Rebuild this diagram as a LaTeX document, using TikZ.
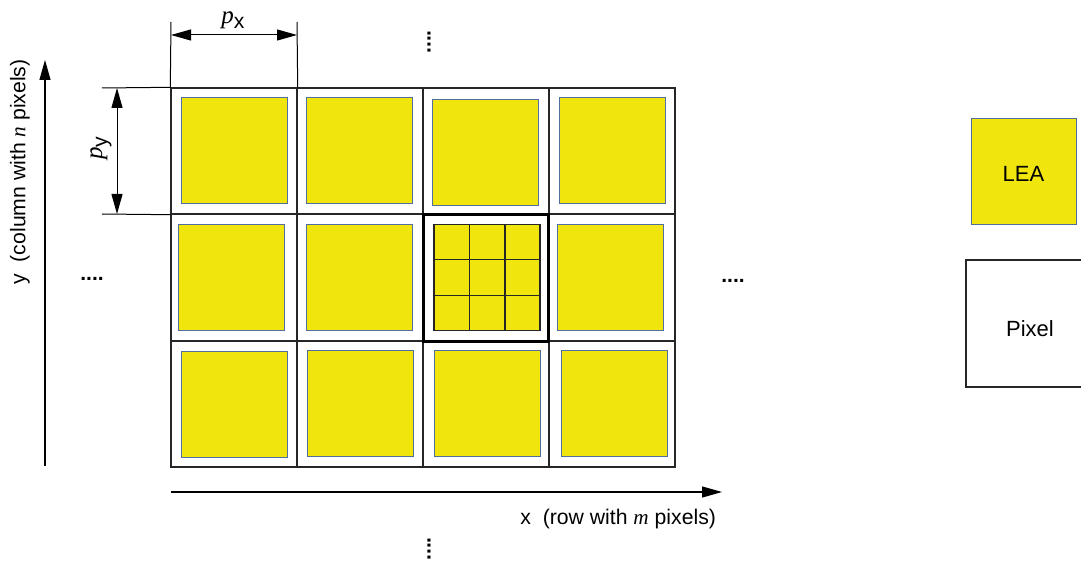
\documentclass[tikz,border=0pt]{standalone}
\usepackage{fontspec}
\setmainfont{Liberation Sans}
\newfontfamily\tms{Liberation Serif}
\usetikzlibrary{arrows.meta,calc}
\definecolor{leayellow}{RGB}{240,230,14}
\definecolor{leaborder}{RGB}{80,110,160}
\begin{document}
\begin{tikzpicture}[x=0.5pt,y=-0.5pt,
  font=\fontsize{10.6}{12}\selectfont,
  cell/.style={draw=black!85,line width=0.7pt,minimum width=63pt,minimum height=63pt,inner sep=0pt},
  lea/.style={draw=leaborder,fill=leayellow,line width=0.5pt,minimum width=53pt,minimum height=53pt,inner sep=0pt},
  thickcell/.style={draw=black,line width=1.5pt,minimum width=62.5pt,minimum height=63pt,inner sep=0pt},
  sub/.style={draw=black!85,line width=0.6pt},
  tip/.style={-{Triangle[length=10pt,width=5.5pt]}},
  dim/.style={{Triangle[length=10pt,width=5.5pt]}-{Triangle[length=10pt,width=5.5pt]},line width=0.5pt},
  ext/.style={line width=0.5pt},
  legtext/.style={inner sep=0pt,font=\fontsize{11}{12}\selectfont},
  dots/.style={inner sep=0pt,font=\fontsize{10.5}{12}\bfseries}]
\useasboundingbox (0,0) rectangle (1081,561);
% grid cells
\foreach \c/\x in {1/234,2/360,3/486,4/612}{
  \foreach \r/\y in {1/151,2/277.5,3/404}{
    \node[cell] (g\r\c) at (\x,\y) {};
  }
}
% LEA squares
\node[lea] (l11) at (234.5,151) {};
\node[lea] (l12) at (359,151) {};
\node[lea] (l13) at (485,153) {};
\node[lea] (l14) at (612,151) {};
\node[lea] (l21) at (231,277.5) {};
\node[lea] (l22) at (359,277.5) {};
\node[lea] (l24) at (610,277.5) {};
\node[lea] (l31) at (234,404) {};
\node[lea] (l32) at (360,403) {};
\node[lea] (l33) at (487,403) {};
\node[lea] (l34) at (614,403) {};
% highlighted pixel with subdivided LEA
\node[thickcell] (hc) at (486,278) {};
\node[lea,draw=black!85,line width=0.7pt] (l23) at (487,277.5) {};
\draw[sub] ($(l23.north west)!1/3!(l23.north east)$) -- ($(l23.south west)!1/3!(l23.south east)$);
\draw[sub] ($(l23.north west)!2/3!(l23.north east)$) -- ($(l23.south west)!2/3!(l23.south east)$);
\draw[sub] ($(l23.north west)!1/3!(l23.south west)$) -- ($(l23.north east)!1/3!(l23.south east)$);
\draw[sub] ($(l23.north west)!2/3!(l23.south west)$) -- ($(l23.north east)!2/3!(l23.south east)$);
% p_x dimension
\coordinate (pxtl) at (171,22);
\coordinate (pxtr) at (297,22);
\coordinate (pxl) at (171,35);
\coordinate (pxr) at (297,35);
\draw[ext] (pxtl) -- (g11.north west);
\draw[ext] (pxtr) -- (g11.north east);
\draw[dim] (pxl) -- (pxr);
\node (pxlab) at (233,20) {{\tms\itshape\fontsize{12.5}{12}\selectfont p}\raisebox{-0.45ex}{x}};
% p_y dimension
\coordinate (pyt) at (102,88);
\coordinate (pyb) at (102,214);
\coordinate (pya) at (117,88);
\coordinate (pyz) at (117,214);
\draw[ext] (pyt) -- (g11.north west);
\draw[ext] (pyb) -- (g11.south west);
\draw[dim] (pya) -- (pyz);
\node[rotate=90] (pylab) at (101,148) {{\tms\itshape\fontsize{12.5}{12}\selectfont p}\raisebox{-0.45ex}{y}};
% axes
\coordinate (ya) at (45,466);
\coordinate (yb) at (45,60);
\draw[tip,line width=0.6pt] (ya) -- (yb);
\node[rotate=90] (ylab) at (20,172) {y\ \ (column with {\tms\itshape n} pixels)};
\coordinate (xa) at (171,492);
\coordinate (xb) at (722,492);
\draw[tip,line width=0.6pt] (xa) -- (xb);
\node[anchor=east] (xlab) at (723,519) {x\ \ (row with {\tms\itshape m} pixels)};
% ellipsis dots
\node[dots,rotate=90] (dtop) at (429,42) {....};
\node[dots,rotate=90] (dbot) at (429,549) {....};
\node[dots] (dleft) at (92,279) {....};
\node[dots] (dright) at (733,281) {....};
% legend
\node[lea,minimum width=52.5pt,minimum height=53pt] (leg1) at (1023.5,172) {};
\node[legtext] (leg1lab) at (1023.5,174) {LEA};
\begin{scope}
\clip (0,0) rectangle (1081,561);
\node[draw=black!85,line width=0.7pt,minimum width=64pt,minimum height=63.5pt,inner sep=0pt] (leg2) at (1030,323.5) {};
\end{scope}
\node[legtext] (leg2lab) at (1030,329) {Pixel};
\end{tikzpicture}
\end{document}
